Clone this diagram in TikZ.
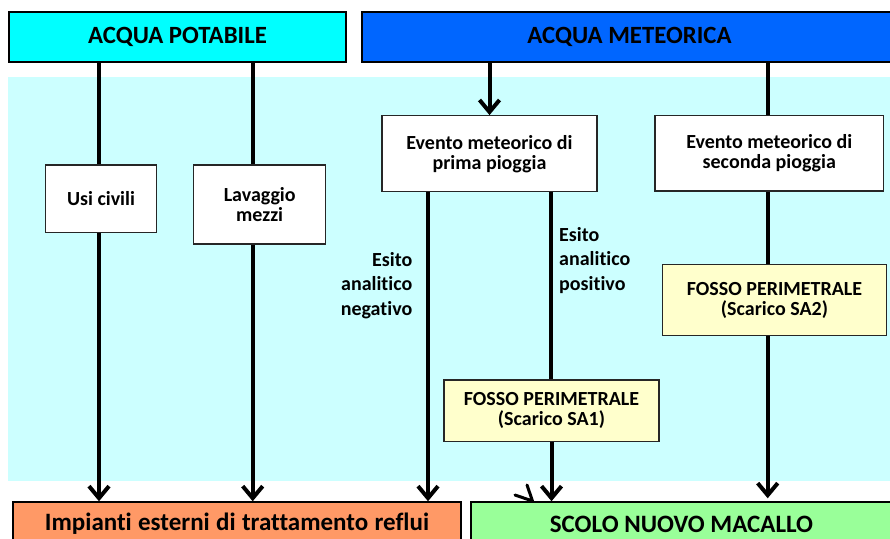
\documentclass[tikz,border=0pt]{standalone}
\usepackage{fontspec}
\setmainfont{Carlito}[Ligatures=NoCommon]
\usetikzlibrary{arrows.meta}
\definecolor{cyanT}{HTML}{00FFFF}
\definecolor{blueT}{HTML}{0066FF}
\definecolor{bgcyan}{HTML}{CCFFFF}
\definecolor{yel}{HTML}{FFFFCC}
\definecolor{orng}{HTML}{FF9966}
\definecolor{grn}{HTML}{99FF99}
\begin{document}
\begin{tikzpicture}[x=1pt,y=-1pt,
 title/.style={draw=black, line width=2pt, minimum height=50pt, inner sep=0pt, font=\fontsize{24.8}{24.8}\selectfont\bfseries},
 bottom/.style={title, line width=1.5pt, minimum height=44pt, font=\fontsize{25}{25}\selectfont\bfseries},
 wbox/.style={draw=black!85, line width=1.2pt, fill=white, inner sep=0pt, align=center, font=\fontsize{20}{20}\selectfont\bfseries},
 ybox/.style={wbox, fill=yel},
 conn/.style={line width=4pt, draw=black},
 arr/.style={conn, -{Straight Barb[length=12pt,width=20pt]}},
 lbl/.style={inner sep=0pt, font=\fontsize{20}{24.7}\selectfont\bfseries}]
\useasboundingbox (0,0) rectangle (890,538);
\fill[bgcyan] (8,77) rectangle (895,481);
% top boxes
\node[title, fill=cyanT, minimum width=337pt] (pot) at (177.5,37) {ACQUA POTABILE};
\node[title, fill=blueT, minimum width=535pt] (met) at (629.5,37) {ACQUA METEORICA};
% inner boxes
\node[wbox, minimum width=110.6pt, minimum height=67.3pt] (usi) at (101,198.7) {Usi civili};
\node[wbox, minimum width=132pt, minimum height=79pt] (lav) at (259.7,204.5) {Lavaggio\\mezzi};
\node[wbox, minimum width=215pt, minimum height=76pt] (prima) at (489.5,153.7) {Evento meteorico di\\prima pioggia};
\node[wbox, minimum width=228.7pt, minimum height=75.3pt] (seconda) at (769.3,153.3) {Evento meteorico di\\seconda pioggia};
\node[ybox, minimum width=223.6pt, minimum height=71pt] (sa2) at (774.5,300.2) {FOSSO PERIMETRALE\\(Scarico SA2)};
\node[ybox, minimum width=215pt, minimum height=61.7pt] (sa1) at (551.5,410.8) {FOSSO PERIMETRALE\\(Scarico SA1)};
% bottom boxes
\node[bottom, fill=orng, minimum width=448pt] (imp) at (237,524) {\spaceskip=6.3pt\relax Impianti esterni di trattamento reflui};
\node[bottom, fill=grn, minimum width=421pt] (scolo) at (681.5,524) {SCOLO NUOVO MACALLO};
% labels (base anchor = last line baseline)
\node[lbl, anchor=base east, align=right] (neg) at (412.5,315.5) {Esito\\analitico\\negativo};
\node[lbl, anchor=base west, align=left] (pos) at (559,290.5) {Esito\\analitico\\positivo};
% connector x positions
\coordinate (xu) at ([xshift=-2pt]usi.south);
\coordinate (xl) at ([xshift=-7pt]lav.south);
\coordinate (xn) at ([xshift=-61.5pt]prima.south);
\coordinate (xp) at ([xshift=61.5pt]prima.south);
\coordinate (xs) at ([xshift=-1.6pt]seconda.south);
% connectors
\draw[conn] (xu |- pot.south) -- (xu |- usi.north);
\draw[arr] (xu) -- (xu |- imp.north);
\draw[conn] (xl |- pot.south) -- (xl |- lav.north);
\draw[arr] (xl) -- (xl |- imp.north);
\draw[arr] (prima.north |- met.south) -- (prima.north);
\draw[arr] (xn) -- (xn |- imp.north);
\draw[conn] (xp) -- (xp |- sa1.north);
\draw[arr] (sa1.south) -- (sa1.south |- scolo.north);
\draw[conn] (xs |- met.south) -- (xs |- seconda.north);
\draw[conn] (xs) -- (xs |- sa2.north);
\draw[arr] (xs |- sa2.south) -- ([yshift=3pt]xs |- scolo.north);
% stray arrowhead fragment
\draw[line width=3pt, line join=round, line cap=round] (515,495) -- (532.5,501) -- (527,485);
\end{tikzpicture}
\end{document}
